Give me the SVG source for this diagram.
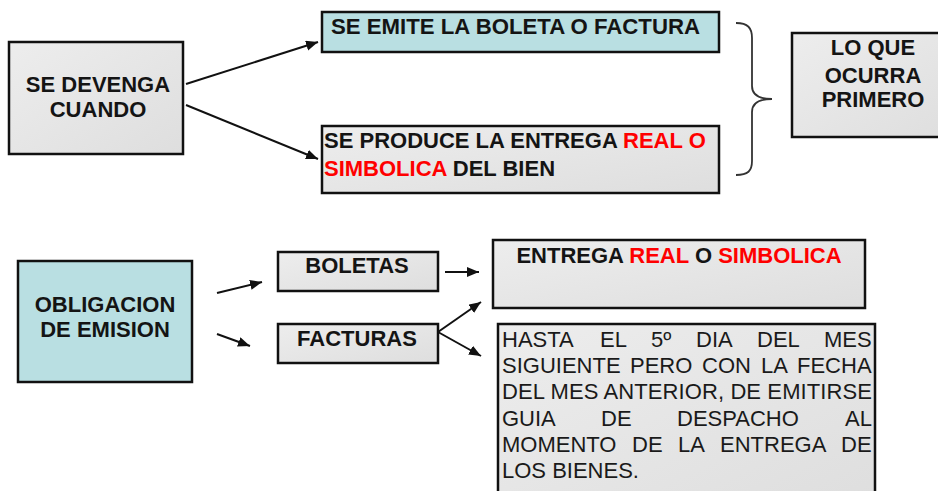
<svg xmlns="http://www.w3.org/2000/svg" width="938" height="491" viewBox="0 0 938 491">
<style>
.box{stroke:#111;stroke-width:2.5}
.gray{fill:url(#g)}
.blue{fill:#b9dfe2}
.b{font-family:"Liberation Sans",Arial,sans-serif;font-weight:bold;font-size:22px;fill:#141414}
.n{font-family:"Liberation Sans",Arial,sans-serif;font-size:22px;fill:#1a1a1a}
.r{fill:#ff0000}
.c{stroke:#111;stroke-width:2;fill:none;marker-end:url(#ah)}
</style>
<defs>
<linearGradient id="g" x1="0" y1="0" x2="1" y2="1">
<stop offset="0" stop-color="#ededed"/>
<stop offset="1" stop-color="#dedede"/>
</linearGradient>
<marker id="ah" markerUnits="userSpaceOnUse" markerWidth="14" markerHeight="12" refX="12" refY="5" orient="auto">
<path d="M0,0 L12,5 L0,10 z" fill="#111"/>
</marker>
</defs>
<rect width="938" height="491" fill="#fff"/>

<g id="devenga">
<rect class="box gray" x="9" y="42" width="174" height="112"/>
<text class="b" x="98" y="92" text-anchor="middle">SE DEVENGA</text>
<text class="b" x="98" y="117" text-anchor="middle">CUANDO</text>
</g>

<g id="emite">
<rect class="box blue" x="322" y="12" width="397" height="40"/>
<text class="b" x="331" y="34" textLength="369" lengthAdjust="spacingAndGlyphs">SE EMITE LA BOLETA O FACTURA</text>
</g>

<g id="entrega-bien">
<rect class="box gray" x="322" y="126" width="397" height="67"/>
<text class="b" x="324" y="148">SE PRODUCE LA ENTREGA <tspan class="r">REAL O</tspan></text>
<text class="b" x="324" y="176"><tspan class="r">SIMBOLICA</tspan> DEL BIEN</text>
</g>

<g id="brace">
<path d="M736,23 C748,23 752,28 752,38 L752,86 C752,95 760,99 772,99 C760,99 752,103 752,112 L752,161 C752,171 748,175 736,175" fill="none" stroke="#333" stroke-width="1.8"/>
</g>

<g id="primero">
<rect class="box gray" x="792" y="33" width="162" height="104"/>
<text class="b" x="873" y="55" text-anchor="middle">LO QUE</text>
<text class="b" x="873" y="83" text-anchor="middle">OCURRA</text>
<text class="b" x="873" y="107" text-anchor="middle">PRIMERO</text>
</g>

<g id="obligacion">
<rect class="box blue" x="18" y="261" width="174" height="121"/>
<text class="b" x="105" y="312" text-anchor="middle">OBLIGACION</text>
<text class="b" x="105" y="337" text-anchor="middle">DE EMISION</text>
</g>

<g id="boletas">
<rect class="box gray" x="278" y="252" width="160" height="39"/>
<text class="b" x="357" y="273" text-anchor="middle">BOLETAS</text>
</g>

<g id="facturas">
<rect class="box gray" x="278" y="324" width="160" height="39"/>
<text class="b" x="357" y="346" text-anchor="middle">FACTURAS</text>
</g>

<g id="entrega">
<rect class="box gray" x="493" y="240" width="372" height="68"/>
<text class="b" x="679" y="263" text-anchor="middle">ENTREGA <tspan class="r">REAL</tspan> O <tspan class="r">SIMBOLICA</tspan></text>
</g>

<g id="hasta">
<rect class="box gray" x="498" y="324" width="377" height="180"/>
<text class="n" y="347"><tspan x="502">HASTA</tspan><tspan x="600">EL</tspan><tspan x="651">5º</tspan><tspan x="696">DIA</tspan><tspan x="757">DEL</tspan><tspan x="824">MES</tspan></text>
<text class="n" y="373"><tspan x="502">SIGUIENTE</tspan><tspan x="630">PERO</tspan><tspan x="702">CON</tspan><tspan x="761">LA</tspan><tspan x="797">FECHA</tspan></text>
<text class="n" x="502" y="399" textLength="370" lengthAdjust="spacing">DEL MES ANTERIOR, DE EMITIRSE</text>
<text class="n" y="426"><tspan x="502">GUIA</tspan><tspan x="601">DE</tspan><tspan x="677">DESPACHO</tspan><tspan x="845">AL</tspan></text>
<text class="n" y="452"><tspan x="502">MOMENTO</tspan><tspan x="632">DE</tspan><tspan x="678">LA</tspan><tspan x="720">ENTREGA</tspan><tspan x="841">DE</tspan></text>
<text class="n" x="502" y="478">LOS BIENES.</text>
</g>

<g id="connectors">
<line class="c" x1="186" y1="84" x2="318" y2="42"/>
<line class="c" x1="186" y1="105" x2="318" y2="159"/>
<line class="c" x1="217" y1="293" x2="262" y2="282"/>
<line class="c" x1="217" y1="334" x2="250" y2="346"/>
<line class="c" x1="445" y1="272" x2="479" y2="272"/>
<line class="c" x1="438" y1="332" x2="481" y2="302"/>
<line class="c" x1="438" y1="332" x2="481" y2="356"/>
</g>
</svg>
